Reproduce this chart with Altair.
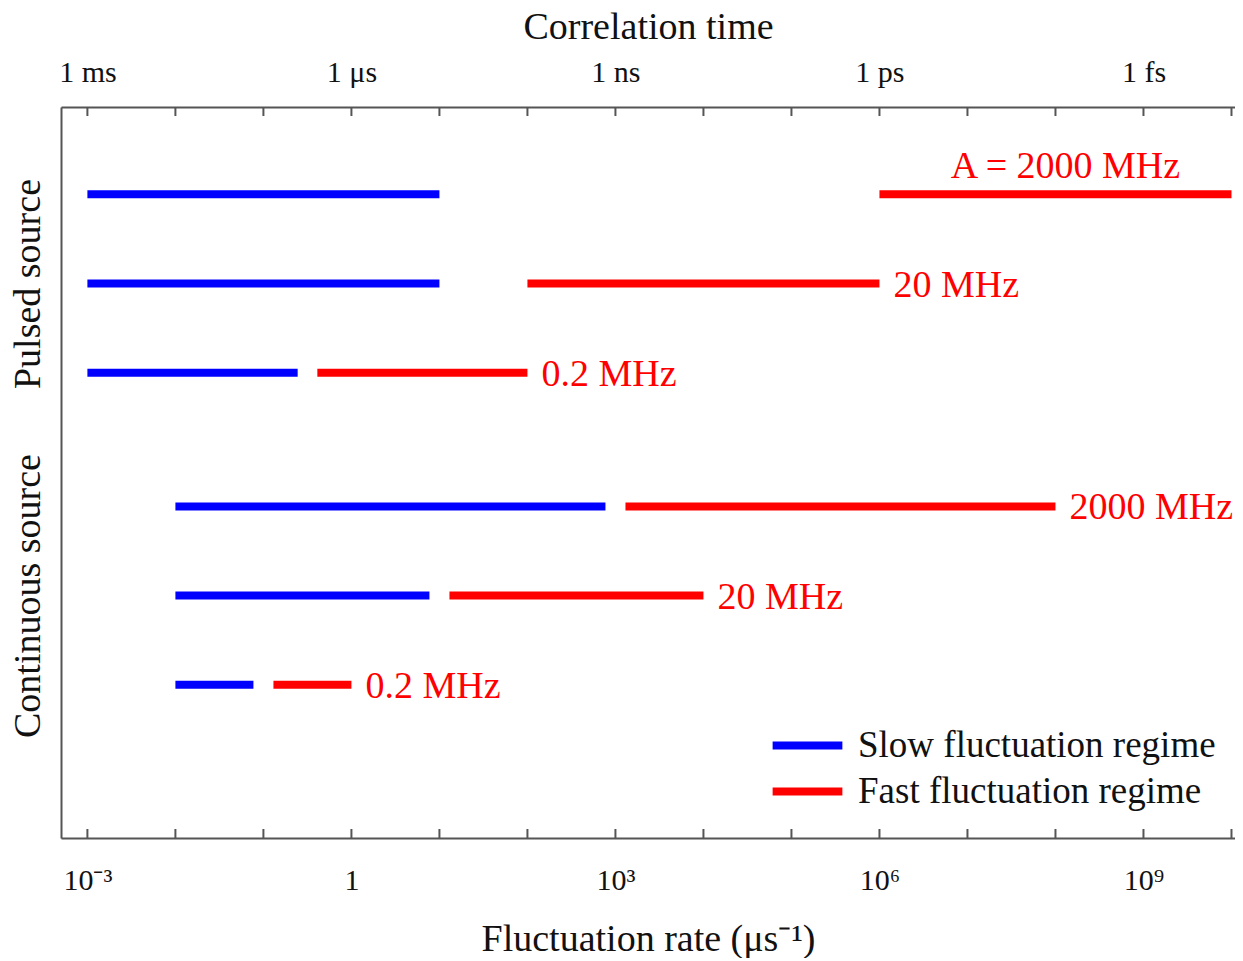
import altair as alt
import pandas as pd

# ---- data ----
row_y = [1, 2, 3, 4.5, 5.5, 6.5]
slow_start = [1e-3, 1e-3, 1e-3, 1e-2, 1e-2, 1e-2]
slow_end = [10, 10, 0.245, 770, 7.7, 0.077]
fast_start = [1e6, 100, 0.41, 1300, 13, 0.13]
fast_end = [1e10, 1e6, 100, 1e8, 1e4, 1]
row_labels = ["A = 2000 MHz", "20 MHz", "0.2 MHz", "2000 MHz", "20 MHz", "0.2 MHz"]

regimes = ["Slow fluctuation regime", "Fast fluctuation regime"]
regime_colors = ["#0000ff", "#ff0000"]

decades = [10.0 ** k for k in range(-3, 11)]
bottom_tick_labels = ["10⁻³", "", "", "1", "", "", "10³", "", "", "10⁶", "", "", "10⁹", "", ""]
top_tick_labels = ["1 ms", "", "", "1 μs", "", "", "1 ns", "", "", "1 ps", "", "", "1 fs", "", ""]

group_values = [2, 5.5]
group_names = ["Pulsed source", "Continuous source"]

# ---- tables ----
seg = pd.DataFrame({
    "y": row_y * 2,
    "x1": slow_start + fast_start,
    "x2": slow_end + fast_end,
    "regime": [regimes[0]] * 6 + [regimes[1]] * 6,
})
lab = pd.DataFrame({"y": row_y, "x": fast_end, "label": row_labels,
                    "xc": [(a * b) ** 0.5 for a, b in zip(fast_start, fast_end)]})
ticks = pd.DataFrame({"d": decades})

FONT = "Liberation Serif"
AX = "#555555"

xscale = alt.Scale(type="log", domain=[10 ** -3.3, 10 ** 10.04], nice=False)
yscale = alt.Scale(domain=[0.02, 8.22], reverse=True, nice=False, zero=False)

bl = "[" + ",".join("'%s'" % s for s in bottom_tick_labels) + "][round(log(datum.value)/LN10)+3]"
tl = "[" + ",".join("'%s'" % s for s in top_tick_labels) + "][round(log(datum.value)/LN10)+3]"
yl = "datum.value == 2 ? '%s' : '%s'" % (group_names[0], group_names[1])

x_bottom_axis = alt.Axis(values=decades, labelExpr=bl, ticks=False, grid=False,
                         domain=True, domainColor=AX, domainWidth=2,
                         labelFontSize=30, labelFont=FONT, labelColor="#111",
                         labelPadding=27, labelOverlap=False, labelFlush=False,
                         title="Fluctuation rate (μs⁻¹)", titleFont=FONT,
                         titleFontSize=38, titleFontWeight="normal", titleColor="#111",
                         titlePadding=25)
y_axis = alt.Axis(values=group_values, labelExpr=yl, ticks=False, grid=False,
                  domain=True, domainColor=AX, domainWidth=2,
                  labelAngle=270, labelAlign="center", labelBaseline="bottom",
                  labelFontSize=38, labelFont=FONT, labelColor="#111",
                  labelPadding=14, title=None, labelOverlap=False, labelLimit=0)
x_top_axis = alt.Axis(orient="top", values=decades, labelExpr=tl, ticks=False, grid=False,
                      domain=True, domainColor=AX, domainWidth=2,
                      labelFontSize=30, labelFont=FONT, labelColor="#111",
                      labelPadding=20, labelOverlap=False, labelFlush=False,
                      title="Correlation time", titleFont=FONT, titleFontSize=38,
                      titleFontWeight="normal", titleColor="#111", titlePadding=11)

bars = alt.Chart(seg).mark_rule(strokeWidth=8, strokeCap="butt").encode(
    x=alt.X("x1:Q", scale=xscale, axis=x_bottom_axis),
    x2="x2:Q",
    y=alt.Y("y:Q", scale=yscale, axis=y_axis),
    color=alt.Color("regime:N",
                    scale=alt.Scale(domain=regimes, range=regime_colors),
                    legend=alt.Legend(orient="none", legendX=720, legendY=612,
                                      title=None, symbolType="M-1.55,0H1.55",
                                      symbolSize=2025, symbolStrokeWidth=8,
                                      labelFontSize=37, labelFont=FONT,
                                      labelColor="#111", labelOffset=24,
                                      labelLimit=0,
                                      rowPadding=1, padding=0)),
)

top_ticks = alt.Chart(ticks).mark_rule(color=AX, strokeWidth=2).encode(
    x=alt.X("d:Q", scale=xscale, axis=x_top_axis),
    y=alt.value(0), y2=alt.value(9),
)
bottom_ticks = alt.Chart(ticks).mark_rule(color=AX, strokeWidth=2).encode(
    x=alt.X("d:Q", scale=xscale, axis=None),
    y=alt.value(722), y2=alt.value(731),
)

first_lab = alt.Chart(lab.iloc[[0]]).mark_text(
    font=FONT, fontSize=38, color="#ff0000", align="center", baseline="alphabetic",
    dx=10, dy=-16).encode(
    x=alt.X("xc:Q", scale=xscale, axis=None),
    y=alt.Y("y:Q", scale=yscale, axis=None),
    text="label:N",
)
other_lab = alt.Chart(lab.iloc[1:]).mark_text(
    font=FONT, fontSize=38, color="#ff0000", align="left", baseline="middle",
    dx=14, dy=2).encode(
    x=alt.X("x:Q", scale=xscale, axis=None),
    y=alt.Y("y:Q", scale=yscale, axis=None),
    text="label:N",
)

chart = alt.layer(bars, top_ticks, bottom_ticks, first_lab, other_lab).resolve_axis(
    x="independent", y="independent"
).properties(
    width=1174, height=731,
    autosize=alt.AutoSizeParams(type="none"),
    padding={"left": 53, "top": 99, "right": 0, "bottom": 120},
).configure_view(stroke=None).configure(font=FONT)

chart.save("out.html", embed_options={"renderer": "svg", "actions": False})
